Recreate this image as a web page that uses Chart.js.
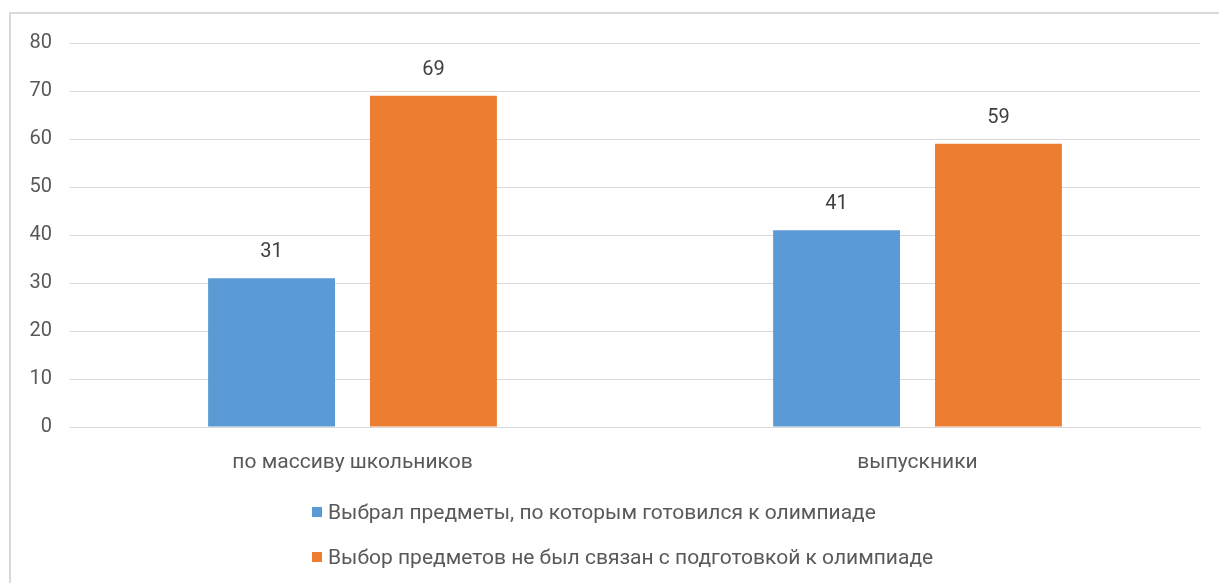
<!DOCTYPE html>
<html>
<head>
<meta charset="utf-8">
<script src="https://cdn.jsdelivr.net/npm/chart.js@4/dist/chart.umd.min.js"></script>
<style>
  html, body { margin: 0; padding: 0; background: #fff; }
  body { width: 1219px; height: 583px; position: relative; overflow: hidden; }
  #frame {
    position: absolute; left: 9px; top: 12px; width: 1230px; height: 600px;
    border: 2px solid #d9d9d9; box-sizing: border-box;
  }
  #wrap { position: absolute; left: 0; top: 0; width: 1219px; height: 583px; }
  #legend {
    position: absolute; left: 312px; top: 489px;
    font-family: Roboto, sans-serif; font-size: 21px; color: #595959;
  }
  #legend ul { list-style: none; margin: 0; padding: 0; }
  #legend li { display: flex; align-items: center; height: 45px; }
  #legend .box { width: 10px; height: 10px; margin-right: 6px; }
</style>
</head>
<body>
<div id="frame"></div>
<div id="wrap"><canvas id="chart"></canvas></div>
<div id="legend"></div>
<script>
// Categories, series and axis ticks
const categories = ['по массиву школьников', 'выпускники'];
const seriesNames = [
  'Выбрал предметы, по которым готовился к олимпиаде',
  'Выбор предметов не был связан с подготовкой к олимпиаде'
];
const chosenForOlympiad = [31, 41];
const notRelated = [69, 59];
const yTicks = [0, 10, 20, 30, 40, 50, 60, 70, 80];

const colors = ['#5b9bd5', '#ed7d31'];
const textColor = '#595959';
const fontFamily = 'Roboto, sans-serif';

// Value labels above each bar
const valueLabels = {
  id: 'valueLabels',
  afterDatasetsDraw(chart) {
    const ctx = chart.ctx;
    ctx.save();
    ctx.font = '20px ' + fontFamily;
    ctx.fillStyle = '#404040';
    ctx.textAlign = 'center';
    ctx.textBaseline = 'middle';
    chart.data.datasets.forEach((ds, i) => {
      chart.getDatasetMeta(i).data.forEach((bar, j) => {
        ctx.fillText(String(ds.data[j]), bar.x, bar.y - 26);
      });
    });
    ctx.restore();
  }
};

const chart = new Chart(document.getElementById('chart'), {
  type: 'bar',
  data: {
    labels: categories,
    datasets: [
      { label: seriesNames[0], data: chosenForOlympiad, backgroundColor: colors[0] },
      { label: seriesNames[1], data: notRelated, backgroundColor: colors[1] }
    ]
  },
  options: {
    responsive: true,
    maintainAspectRatio: false,
    animation: false,
    layout: { padding: { left: 10, right: 19, top: 43, bottom: 96 } },
    datasets: {
      bar: { categoryPercentage: 0.573, barPercentage: 0.784 }
    },
    scales: {
      x: {
        grid: { display: false, drawTicks: false },
        border: { display: true, color: '#d9d9d9', width: 1 },
        ticks: { color: textColor, font: { family: fontFamily, size: 21 }, padding: 23 },
        afterFit(scale) { scale.height = 60; }
      },
      y: {
        min: 0,
        max: 80,
        afterBuildTicks(scale) { scale.ticks = yTicks.map(v => ({ value: v })); },
        grid: { color: '#d9d9d9', lineWidth: 1, drawTicks: false },
        border: { display: false },
        ticks: { color: textColor, font: { family: fontFamily, size: 20 }, padding: 18 },
        afterFit(scale) { scale.width = 60; }
      }
    },
    plugins: {
      legend: { display: false },
      tooltip: { enabled: false }
    }
  },
  plugins: [valueLabels]
});

// Legend as a left-aligned block under the chart
const ul = document.createElement('ul');
chart.data.datasets.forEach(ds => {
  const li = document.createElement('li');
  li.innerHTML = '<span class="box" style="background:' + ds.backgroundColor + '"></span>' + ds.label;
  ul.appendChild(li);
});
document.getElementById('legend').appendChild(ul);
</script>
</body>
</html>
